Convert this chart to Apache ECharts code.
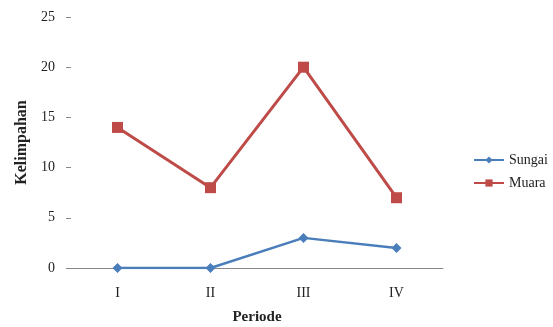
<!DOCTYPE html>
<html><head><meta charset="utf-8">
<script src="https://cdn.jsdelivr.net/npm/echarts@6/dist/echarts.min.js"></script>
<style>html,body{margin:0;padding:0;background:#fff}#c{width:553px;height:327px}</style>
</head><body><div id="c"></div>
<script>
const categories = ['I', 'II', 'III', 'IV'];
const sungai = [0, 0, 3, 2];
const muara = [14, 8, 20, 7];
const yTicks = [0, 5, 10, 15, 20, 25];

const font = 'Liberation Serif';
const chart = echarts.init(document.getElementById('c'), null, {renderer: 'canvas'});
chart.setOption({
  animation: false,
  textStyle: {fontFamily: font},
  grid: {left: 71, right: 110, top: 17, bottom: 59, containLabel: false, outerBoundsMode: 'none'},
  legend: {
    orient: 'vertical', left: 468, top: 148, itemGap: 9,
    itemWidth: 30, itemHeight: 9,
    textStyle: {fontFamily: font, fontSize: 14, color: '#222'},
    data: ['Sungai', 'Muara']
  },
  xAxis: {
    type: 'category', data: categories, boundaryGap: true,
    name: 'Periode', nameLocation: 'middle', nameGap: 42,
    nameTextStyle: {fontFamily: font, fontSize: 15, color: '#222', fontWeight: 'bold'},
    axisLine: {lineStyle: {color: '#888', width: 1}},
    axisTick: {show: false},
    axisLabel: {fontFamily: font, fontSize: 14, color: '#222', margin: 18}
  },
  yAxis: {
    type: 'value', min: yTicks[0], max: yTicks[yTicks.length - 1], interval: 5,
    name: 'Kelimpahan', nameLocation: 'middle', nameGap: 41,
    nameTextStyle: {fontFamily: font, fontSize: 16, color: '#222', fontWeight: 'bold'},
    axisLine: {show: false},
    axisTick: {show: true, length: 5, lineStyle: {color: '#888'}},
    splitLine: {show: false},
    axisLabel: {fontFamily: font, fontSize: 14, color: '#222', margin: 16}
  },
  series: [
    {name: 'Sungai', type: 'line', data: sungai, symbol: 'diamond', symbolSize: 10,
     itemStyle: {color: '#4a7ebb'}, lineStyle: {width: 2.5, color: '#4a7ebb'}},
    {name: 'Muara', type: 'line', data: muara, symbol: 'rect', symbolSize: 11,
     itemStyle: {color: '#be4b48'}, lineStyle: {width: 3, color: '#be4b48'}}
  ]
});
</script></body></html>
